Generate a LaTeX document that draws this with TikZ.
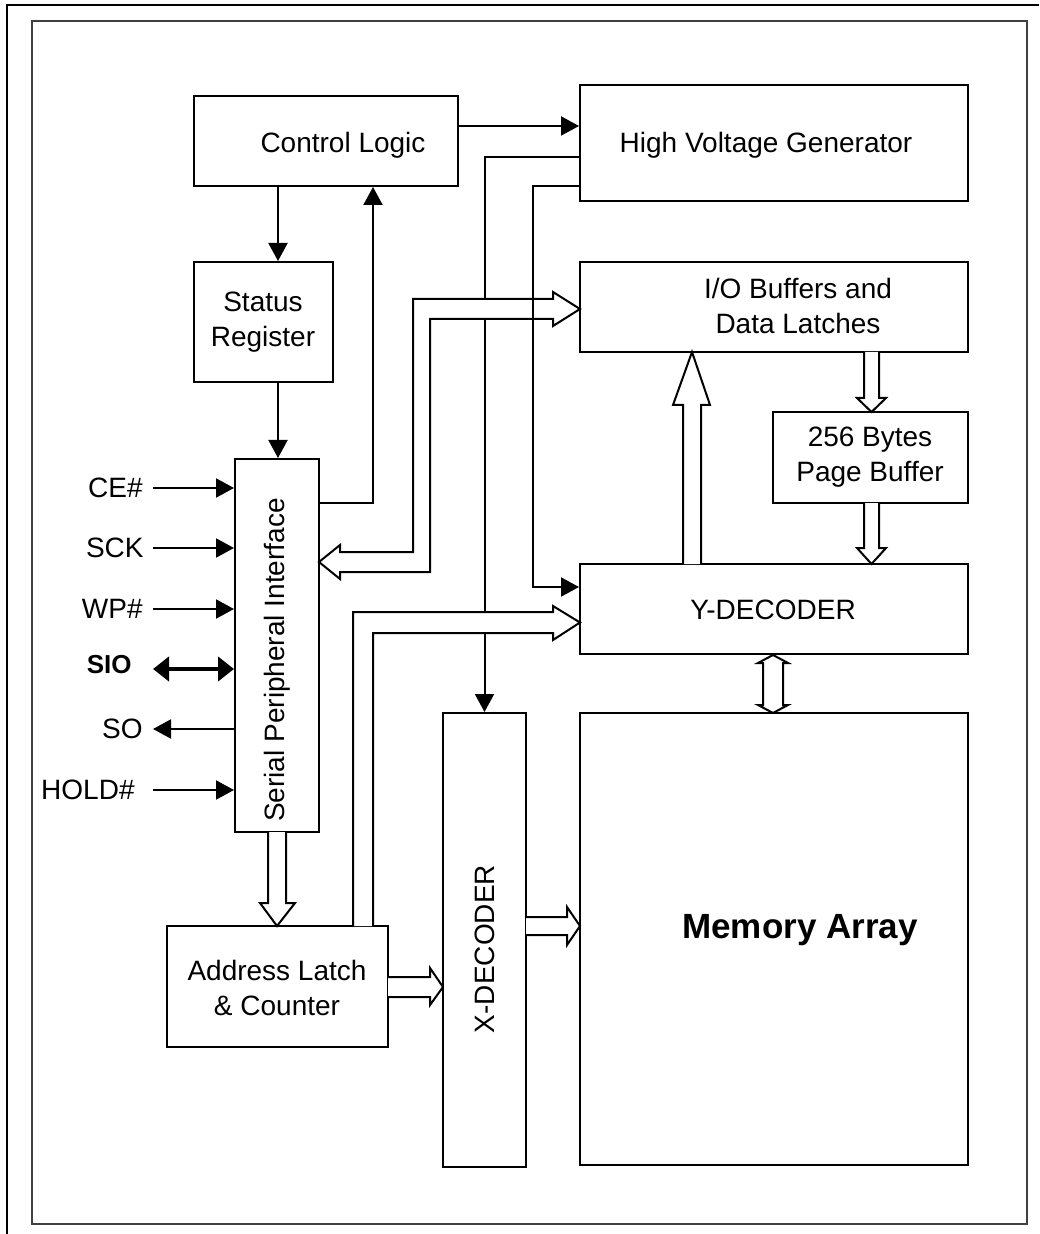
\documentclass[tikz,border=0pt]{standalone}
\usepackage{fontspec}
\setmainfont{Liberation Sans}
\usetikzlibrary{arrows.meta}
\begin{document}
\begin{tikzpicture}[x=0.5pt,y=-0.5pt,
  box/.style 2 args={draw,line width=1pt,inner sep=0pt,minimum width=#1*0.5pt,minimum height=#2*0.5pt},
  txt/.style={font=\fontsize{14pt}{17.5pt}\selectfont,align=center,inner sep=0pt},
  pin/.style={font=\fontsize{14pt}{17pt}\selectfont,inner sep=0pt,anchor=east},
  thin/.style={line width=1pt},
  arr/.style={line width=1pt,-{Triangle[length=9pt,width=9.5pt]}},
  wide/.style={draw,line width=1pt,fill=white,line join=miter}
]
\useasboundingbox (0,0) rectangle (1039,1234);
% frames
\draw[line width=1pt] (7,1234) -- (7,5) -- (1039,5);
\draw[line width=1.2pt,black!75] (32,21) rectangle (1027,1224);

% boxes
\node[box={264}{90}] (cl) at (326,141) {};
\node[txt] (cltxt) at (343,145) {Control Logic};
\node[box={388}{116}] (hvg) at (774,143) {};
\node[txt] (hvgtxt) at (766,145) {High Voltage Generator};
\node[box={139}{120}] (sr) at (263.5,322) {};
\node[txt] (srtxt) at (263,322) {Status\\Register};
\node[box={84}{373}] (spi) at (277,645.5) {};
\node[txt,rotate=90] (spitxt) at (277,660) {Serial Peripheral Interface};
\node[box={388}{90}] (iob) at (774,307) {};
\node[txt] (iobtxt) at (798,306) {I/O Buffers and\\Data Latches};
\node[box={195}{91}] (pb) at (870.5,457.5) {};
\node[txt] (pbtxt) at (870,457) {256 Bytes\\Page Buffer};
\node[box={388}{90}] (yd) at (774,609) {};
\node[txt] (ydtxt) at (773,610) {Y-DECODER};
\node[box={388}{452}] (ma) at (774,939) {};
\node[inner sep=0pt,font=\fontsize{17.5pt}{20pt}\selectfont\bfseries] (matxt) at (800,930) {Memory Array};
\node[box={83}{454}] (xd) at (484.5,940) {};
\node[txt,rotate=90] (xdtxt) at (485,949) {X-DECODER};
\node[box={221}{121}] (al) at (277.5,986.5) {};
\node[txt] (altxt) at (277,988) {Address Latch\\\& Counter};

% pins
\node[pin] (ce) at (143,488) {CE\#};
\node[pin] (sck) at (144,548) {SCK};
\node[pin] (wp) at (143,609) {WP\#};
\node[pin,font=\fontsize{13pt}{15pt}\selectfont\bfseries] (sio) at (132,665) {SIO};
\node[pin] (so) at (143,729) {SO};
\node[pin] (hold) at (135,790) {HOLD\#};
\coordinate (ceL) at (153,488);
\coordinate (sckL) at (153,548);
\coordinate (wpL) at (153,609);
\coordinate (sioL) at (153,669);
\coordinate (soL) at (153,729);
\coordinate (holdL) at (153,790);
\draw[arr] (ceL) -- (spi.west |- ceL);
\draw[arr] (sckL) -- (spi.west |- sckL);
\draw[arr] (wpL) -- (spi.west |- wpL);
\draw[line width=2pt,{Triangle[length=8pt,width=12pt]}-{Triangle[length=8pt,width=12pt]}] (sioL) -- (spi.west |- sioL);
\draw[arr] (spi.west |- soL) -- (soL);
\draw[arr] (holdL) -- (spi.west |- holdL);

% thin connectors
\draw[arr] (cl.east |- 0,126) -- (hvg.west |- 0,126);
\draw[arr] (cl.south -| 278,0) -- (sr.north -| 278,0);
\draw[arr] (sr.south -| 278,0) -- (spi.north -| 278,0);
\draw[arr] (spi.east |- 0,503) -- (373,503) -- (cl.south -| 373,0);
\draw[arr] (hvg.west |- 0,157) -| (xd.north);

% wide arrows
\draw[wide] (319,562) -- (340,545) -- (340,552) -- (413,552) -- (413,299) -- (553,299) -- (553,292) -- (580,309) -- (553,326) -- (553,319) -- (430,319) -- (430,572) -- (340,572) -- (340,579) -- cycle;
\draw[wide] (353,926) -- (353,612) -- (553,612) -- (553,606) -- (580,622.5) -- (553,640) -- (553,633) -- (373,633) -- (373,926);
\draw[wide] (864,352) -- (864,398) -- (857,398) -- (871.5,412) -- (886,398) -- (879,398) -- (879,352);
\draw[wide] (864,503) -- (864,548) -- (857,548) -- (871.5,564) -- (886,548) -- (879,548) -- (879,503);
\draw[wide] (683,564) -- (683,405) -- (673,405) -- (692,352) -- (710,405) -- (701,405) -- (701,564);
\draw[wide] (773,655) -- (758,663) -- (763,663) -- (763,705) -- (758,705) -- (773,713) -- (788,705) -- (783,705) -- (783,663) -- (788,663) -- cycle;
\draw[wide] (268,832) -- (268,903) -- (260,903) -- (277,926) -- (295,903) -- (286,903) -- (286,832);
\draw[wide] (388,977) -- (430,977) -- (430,968) -- (443,987) -- (430,1005) -- (430,997) -- (388,997);
\draw[wide] (526,917) -- (567,917) -- (567,907) -- (580,926) -- (567,945) -- (567,935) -- (526,935);

% line crossing over the wide arrow
\draw[arr] (hvg.west |- 0,186) -- (533,186) |- (yd.west |- 0,587);
\end{tikzpicture}
\end{document}
